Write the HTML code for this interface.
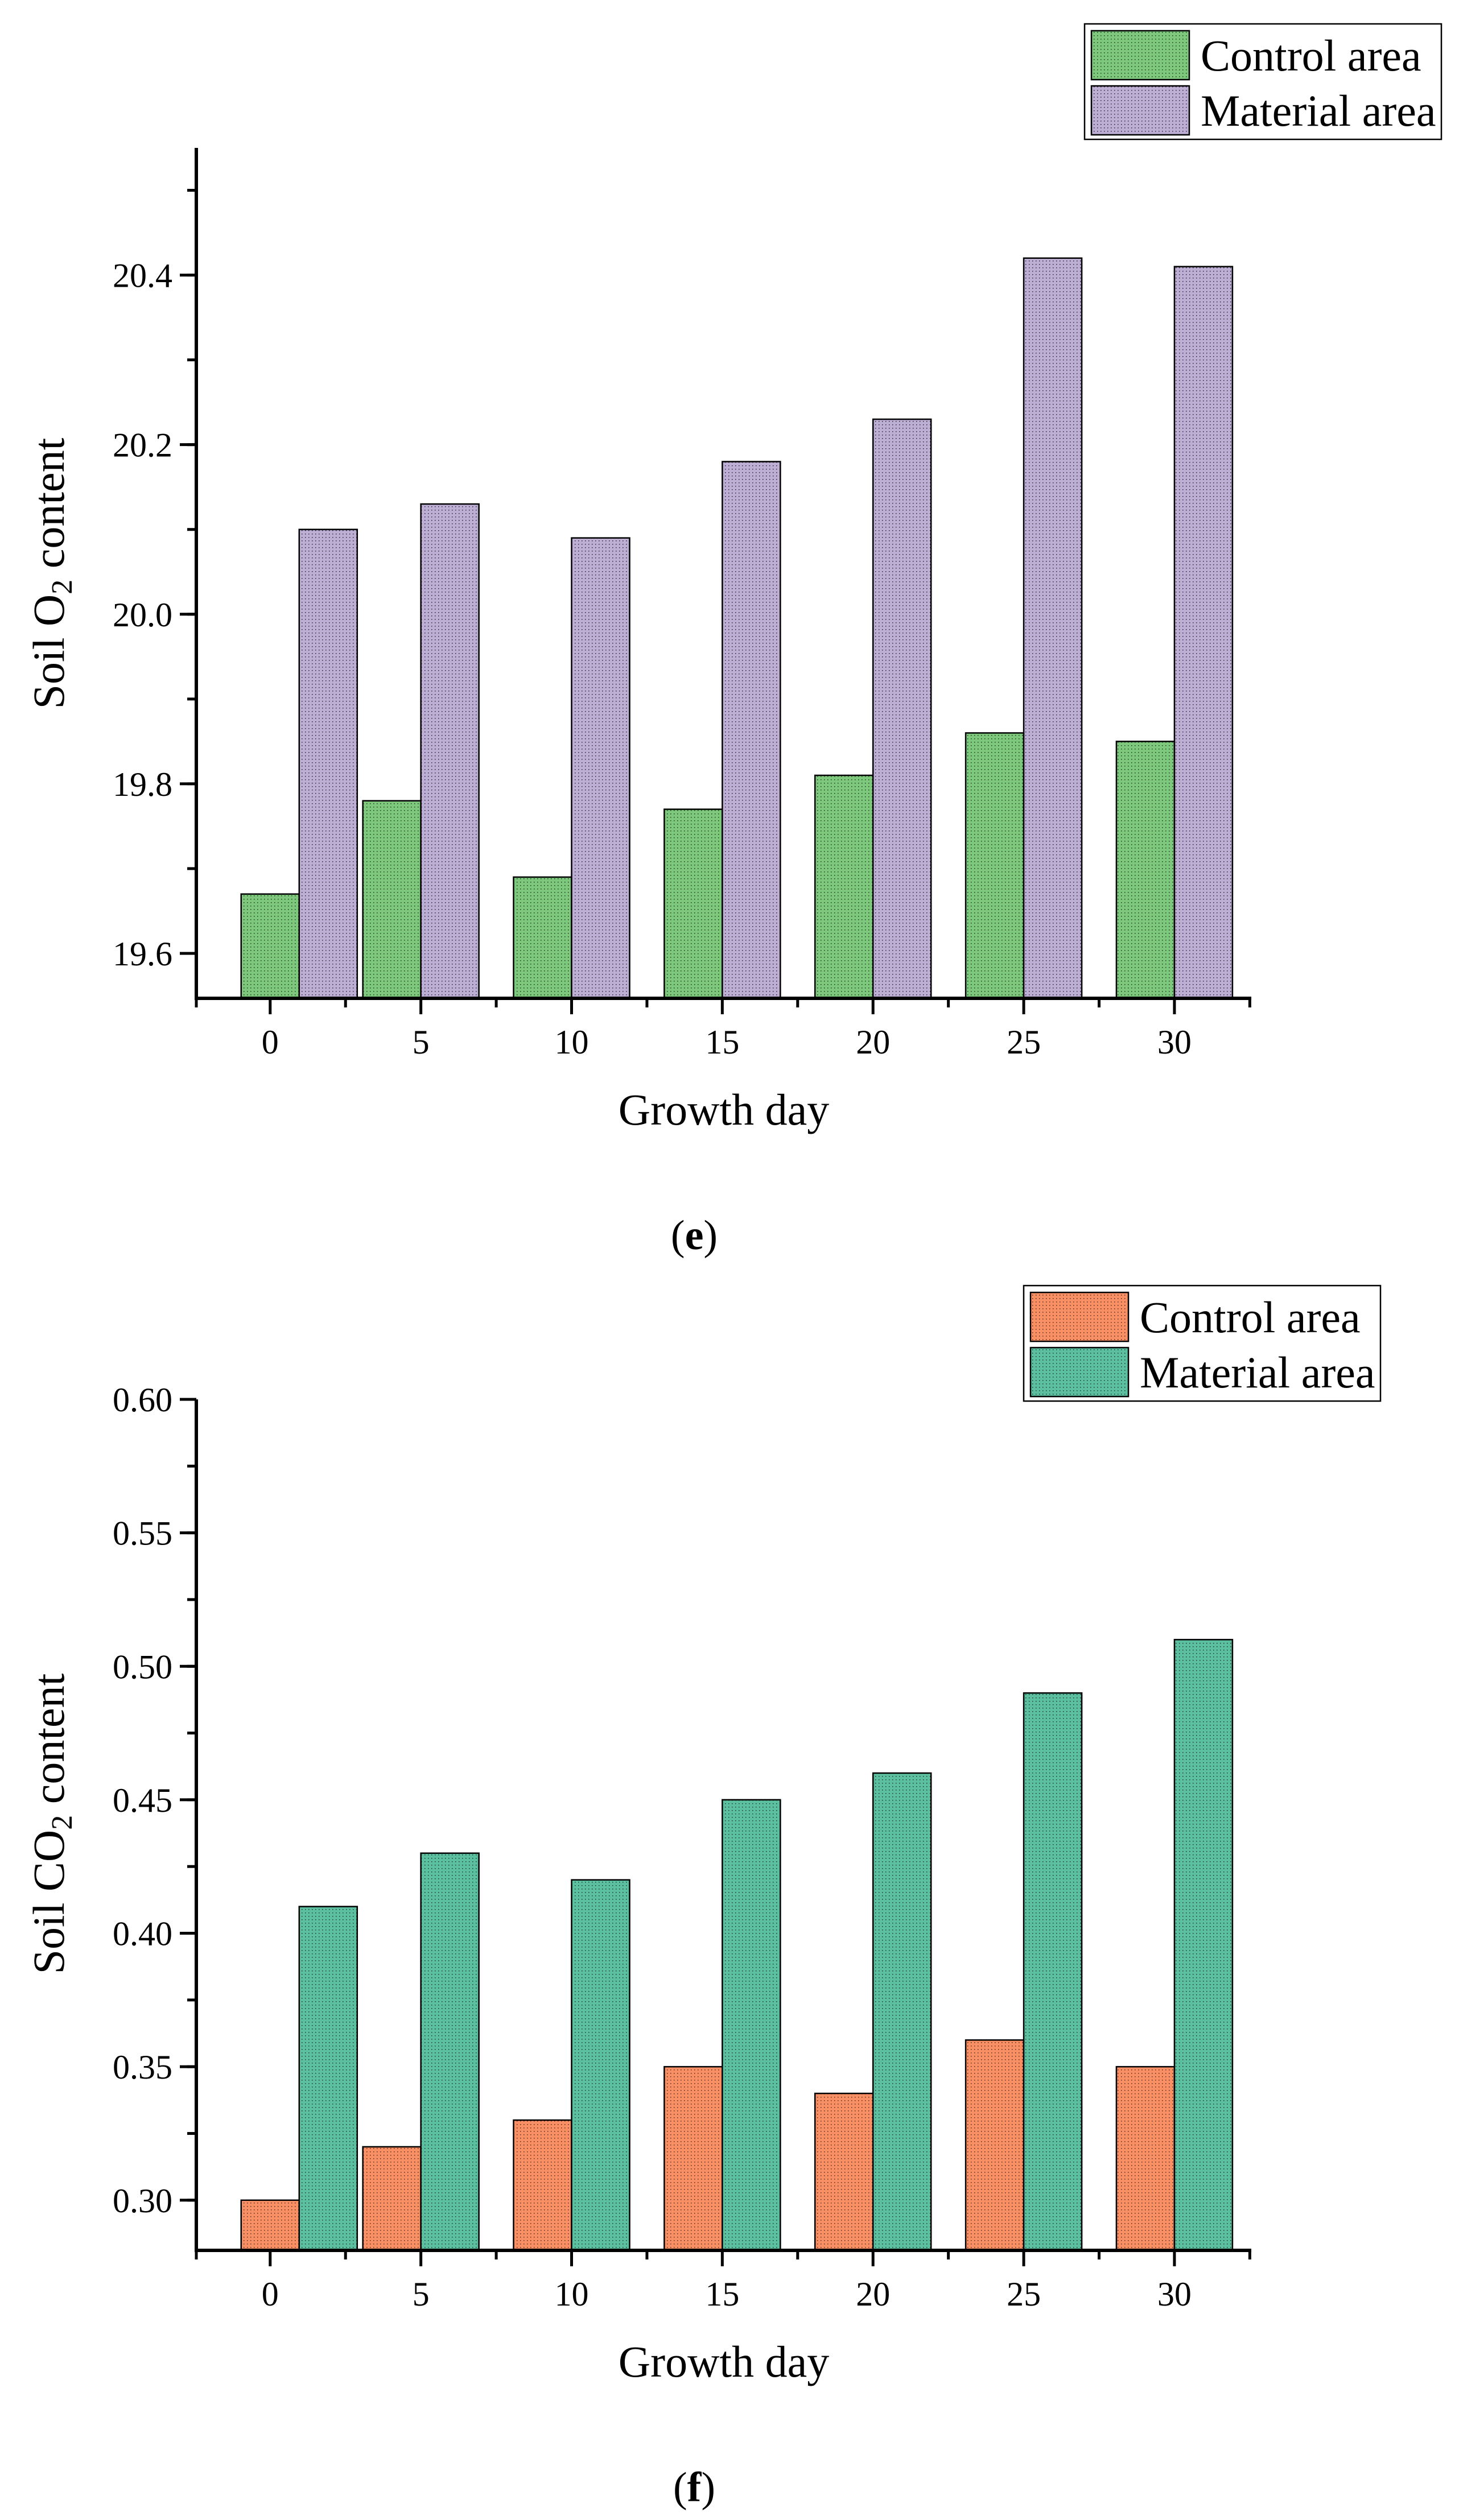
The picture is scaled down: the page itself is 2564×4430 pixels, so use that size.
<!DOCTYPE html>
<html><head><meta charset="utf-8"><style>
html,body{margin:0;padding:0;background:#fff;}
svg{display:block;}
text{font-family:"Liberation Serif","Times New Roman",serif;fill:#000;}
</style></head><body>
<svg id="fig" width="2564" height="4430" viewBox="0 0 2564 4430" xmlns="http://www.w3.org/2000/svg" font-family="Liberation Serif, Times New Roman, serif">
<defs>
<pattern id="pGreen" width="6" height="6" patternUnits="userSpaceOnUse"><rect width="6" height="6" fill="#7dc87d"/><rect x="2" y="2" width="1.5" height="1.5" fill="#1a3a1a"/></pattern>
<pattern id="pPurple" width="6" height="6" patternUnits="userSpaceOnUse"><rect width="6" height="6" fill="#bdaed3"/><rect x="2" y="2" width="1.5" height="1.5" fill="#2a2238"/></pattern>
<pattern id="pOrange" width="6" height="6" patternUnits="userSpaceOnUse"><rect width="6" height="6" fill="#f98f64"/><rect x="2" y="2" width="1.5" height="1.5" fill="#5a2a1a"/></pattern>
<pattern id="pTeal" width="6" height="6" patternUnits="userSpaceOnUse"><rect width="6" height="6" fill="#5cc0a0"/><rect x="2" y="2" width="1.5" height="1.5" fill="#1a3a30"/></pattern>
</defs>
</svg>
<script>
const categories = [0, 5, 10, 15, 20, 25, 30];
const o2Control = [19.67, 19.78, 19.69, 19.77, 19.81, 19.86, 19.85];
const o2Material = [20.10, 20.13, 20.09, 20.18, 20.23, 20.42, 20.41];
const o2Ticks = ["19.6", "19.8", "20.0", "20.2", "20.4"];
const co2Control = [0.30, 0.32, 0.33, 0.35, 0.34, 0.36, 0.35];
const co2Material = [0.41, 0.43, 0.42, 0.45, 0.46, 0.49, 0.51];
const co2Ticks = ["0.30", "0.35", "0.40", "0.45", "0.50", "0.55", "0.60"];
const seriesNames = ["Control area", "Material area"];

const NS = "http://www.w3.org/2000/svg";
const svg = document.getElementById('fig');
function mk(tag, attrs, parent, txt) {
  const e = document.createElementNS(NS, tag);
  for (const k in attrs) e.setAttribute(k, attrs[k]);
  if (txt !== undefined) e.textContent = txt;
  (parent || svg).appendChild(e);
  return e;
}

function drawChart(cfg) {
  const g = mk('g', {});
  
  
  const L = 345, R = 2199, T = cfg.top, B = cfg.bottom;
  const xmin = -2.45, xmax = 32.55;
  const xs = v => L + (v - xmin) / (xmax - xmin) * (R - L);
  const ys = v => B - (v - cfg.ymin) / (cfg.ymax - cfg.ymin) * (B - T);
  const bw = 102;
  categories.forEach((c, i) => {
    const cx = xs(c) + (i === 0 ? bw / 2 : 0);
    const b1 = mk('rect', {x: cx - bw, y: ys(cfg.s1[i]), width: bw, height: B - ys(cfg.s1[i]), fill: cfg.fill1, stroke: '#000', 'stroke-width': 2.5}, g);
    
    
    const b2 = mk('rect', {x: cx, y: ys(cfg.s2[i]), width: bw, height: B - ys(cfg.s2[i]), fill: cfg.fill2, stroke: '#000', 'stroke-width': 2.5}, g);
    
    
  });
  const ya = mk('line', {x1: L, y1: T, x2: L, y2: B + 3, stroke: '#000', 'stroke-width': 6}, g);
  
  
  const xa = mk('line', {x1: L - 3, y1: B, x2: R, y2: B, stroke: '#000', 'stroke-width': 6}, g);
  
  
  cfg.ticks.forEach(t => {
    const v = parseFloat(t), y = ys(v);
    mk('line', {x1: L - 29, y1: y, x2: L, y2: y, stroke: '#000', 'stroke-width': 5}, g);
    const tl = mk('text', {x: L - 42, y: y + 21, 'font-size': 60, 'text-anchor': 'end'}, g, t);
    
    
  });
  for (let v = cfg.minorStart; v <= cfg.ymax + 1e-9; v += cfg.minorStep) {
    const y = ys(v);
    mk('line', {x1: L - 16, y1: y, x2: L, y2: y, stroke: '#000', 'stroke-width': 5}, g);
  }
  categories.forEach(c => {
    const x = xs(c);
    mk('line', {x1: x, y1: B, x2: x, y2: B + 28, stroke: '#000', 'stroke-width': 5}, g);
    const tl = mk('text', {x: x, y: B + 97, 'font-size': 60, 'text-anchor': 'middle'}, g, String(c));
    
    
  });
  for (let v = -2.5; v <= 32.5; v += 5) {
    const x = Math.max(L, xs(v));
    mk('line', {x1: x, y1: B, x2: x, y2: B + 16, stroke: '#000', 'stroke-width': 5}, g);
  }
  const xt = mk('text', {x: 1272, y: B + 222, 'font-size': 78, 'text-anchor': 'middle'}, g, 'Growth day');
  
  
  const yt = mk('text', {x: 0, y: 0, 'font-size': 78, 'text-anchor': 'middle', transform: 'translate(112,' + cfg.ytitleY + ') rotate(-90)'}, g);
  
  
  mk('tspan', {}, yt, cfg.ytitleA);
  mk('tspan', {'font-size': 52, dy: 14}, yt, '2');
  mk('tspan', {dy: -14}, yt, ' content');
  const lg = mk('g', {}, g);
  
  
  const lx = cfg.legX;
  mk('rect', {x: lx, y: cfg.legY, width: 627, height: 203, fill: '#fff', stroke: '#000', 'stroke-width': 2.5}, lg);
  [cfg.fill1, cfg.fill2].forEach((f, i) => {
    const sy = cfg.legY + 12 + i * 97;
    const sw = mk('rect', {x: lx + 12, y: sy, width: 172, height: 86, fill: f, stroke: '#000', 'stroke-width': 2.5}, lg);
    
    
    const lt = mk('text', {x: lx + 204, y: sy + 70, 'font-size': 78}, lg, seriesNames[i]);
    
    
  });
  const pl = mk('text', {x: 1220, y: B + 441, 'font-size': 74, 'text-anchor': 'middle'}, g);
  
  
  mk('tspan', {}, pl, '(');
  mk('tspan', {'font-weight': 'bold'}, pl, cfg.panel);
  mk('tspan', {}, pl, ')');
}

drawChart({name: 'o2-chart', top: 260, bottom: 1755, ymin: 19.547, ymax: 20.55,
  s1: o2Control, s2: o2Material, ticks: o2Ticks, minorStart: 19.6, minorStep: 0.1,
  fill1: 'url(#pGreen)', fill2: 'url(#pPurple)', ytitleA: 'Soil O', ytitleY: 1008,
  legX: 1906, legY: 42, panel: 'e'});
drawChart({name: 'co2-chart', top: 2460, bottom: 3956, ymin: 0.2812, ymax: 0.60,
  s1: co2Control, s2: co2Material, ticks: co2Ticks, minorStart: 0.30, minorStep: 0.025,
  fill1: 'url(#pOrange)', fill2: 'url(#pTeal)', ytitleA: 'Soil CO', ytitleY: 3206,
  legX: 1799, legY: 2260, panel: 'f'});
</script>
</body></html>
